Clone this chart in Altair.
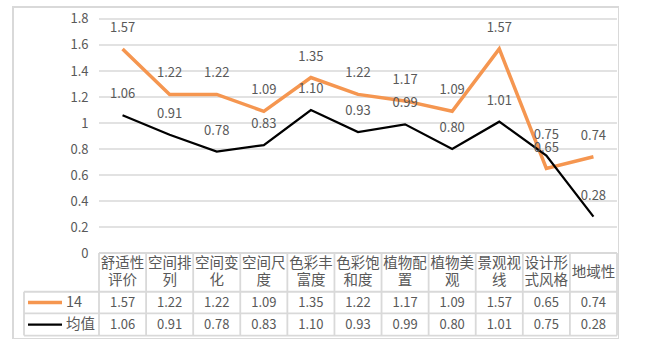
import altair as alt
import pandas as pd

# ---------------- data ----------------
categories = ["舒适性评价", "空间排列", "空间变化", "空间尺度", "色彩丰富度", "色彩饱和度",
              "植物配置", "植物美观", "景观视线", "设计形式风格", "地域性"]
series_names = ["14", "均值"]
values_14 = [1.57, 1.22, 1.22, 1.09, 1.35, 1.22, 1.17, 1.09, 1.57, 0.65, 0.74]
values_mean = [1.06, 0.91, 0.78, 0.83, 1.10, 0.93, 0.99, 0.80, 1.01, 0.75, 0.28]
y_ticks = [0, 0.2, 0.4, 0.6, 0.8, 1.0, 1.2, 1.4, 1.6, 1.8]

# ---------------- styles / layout ----------------
colors = ["#F59650", "#000000"]
widths = [3.5, 2.25]
FONT = "Noto Sans CJK SC"
TXT = "#595959"
GRID = "#d9d9d9"

n = len(categories)
x_left, x_right = -0.5, n - 0.5
legend_left = -2.0927
legend_line = (-2.0077, -1.2857)
legend_text_x = -1.2008
row_edges = [0.0, -0.298, -0.465, -0.635]
row_centers = {series_names[0]: -0.3815, series_names[1]: -0.55}
header_center = -0.1538      # centre of the header text block
line_h_px = 17.0
px_per_unit = 130.0

xscale = alt.Scale(domain=[-2.3263, 10.5427], nice=False, zero=False)
yscale = alt.Scale(domain=[-0.6615, 1.8923], nice=False, zero=False)
yaxis = alt.Axis(values=y_ticks, format=".2~f", grid=False, domain=False, ticks=False,
                 tickSize=0, labelPadding=0, offset=-75, title=None,
                 labelFont=FONT, labelFontSize=13, labelColor=TXT)
cscale = alt.Scale(domain=series_names, range=colors)
wscale = alt.Scale(domain=series_names, range=widths)


def X(f="x"):
    return alt.X(f + ":Q", scale=xscale, axis=None)


def X2(f="x2"):
    return alt.X2(f)


def Y(f="y"):
    return alt.Y(f + ":Q", scale=yscale, axis=yaxis)


# long data
rows = []
for s, vals in zip(series_names, [values_14, values_mean]):
    for i, (c, v) in enumerate(zip(categories, vals)):
        rows.append({"x": i, "cat": c, "series": s, "y": v, "label": f"{v:.2f}",
                     "row_y": row_centers[s]})
df = pd.DataFrame(rows)

# gridlines
grid_df = pd.DataFrame({"y": [t for t in y_ticks if t > 0], "x": x_left, "x2": x_right})
grid = alt.Chart(grid_df).mark_rule(color=GRID, strokeWidth=1.5).encode(
    x=X(), x2=X2(), y=Y())

# table horizontal borders
h_df = pd.DataFrame({"y": row_edges,
                     "x": [x_left] + [legend_left] * 3,
                     "x2": [x_right] * 4})
hrules = alt.Chart(h_df).mark_rule(color=GRID, strokeWidth=1.8).encode(
    x=X(), x2=X2(), y=Y())

# table vertical borders
v_df = pd.DataFrame({"x": [legend_left] + [x_left + k for k in range(n + 1)],
                     "y": [row_edges[1]] + [row_edges[0]] * (n + 1),
                     "y2": [row_edges[3]] * (n + 2)})
vrules = alt.Chart(v_df).mark_rule(color=GRID, strokeWidth=1.8).encode(
    x=X(), y=Y(), y2=alt.Y2("y2"))

# lines
lines = alt.Chart(df).mark_line(strokeJoin="miter").encode(
    x=X(), y=Y(),
    color=alt.Color("series:N", scale=cscale, legend=None),
    strokeWidth=alt.StrokeWidth("series:N", scale=wscale, legend=None),
    detail="series:N")

# data labels
labels = alt.Chart(df).mark_text(font=FONT, fontSize=13, color=TXT, dy=-21,
                                 baseline="middle", align="center").encode(
    x=X(), y=Y(), text="label:N")

# table values
tvals = alt.Chart(df).mark_text(font=FONT, fontSize=13, color=TXT,
                                baseline="middle", align="center").encode(
    x=X(), y=Y("row_y"), text="label:N")

# header (wrapped every 3 characters, block centred in the header row)
wrapped = ["\n".join([c[k:k + 3] for k in range(0, len(c), 3)]) for c in categories]
nlines = [w.count("\n") + 1 for w in wrapped]
hdr_df = pd.DataFrame({"x": list(range(n)), "t": wrapped,
                       "y": [header_center + (m - 1) * line_h_px / 2 / px_per_unit for m in nlines]})
header = alt.Chart(hdr_df).mark_text(font=FONT, fontSize=14.5, color=TXT, baseline="middle",
                                     align="center", lineBreak="\n", lineHeight=line_h_px).encode(
    x=X(), y=Y(), text="t:N")

# legend column
leg_df = pd.DataFrame({"series": series_names,
                       "y": [row_centers[s] for s in series_names],
                       "x": legend_line[0], "x2": legend_line[1], "tx": legend_text_x})
leg_lines = alt.Chart(leg_df).mark_rule().encode(
    x=X(), x2=X2(), y=Y(),
    color=alt.Color("series:N", scale=cscale, legend=None),
    strokeWidth=alt.StrokeWidth("series:N", scale=alt.Scale(domain=series_names, range=[4, 3]), legend=None))
leg_text = alt.Chart(leg_df).mark_text(font=FONT, fontSize=14.5, color=TXT, baseline="middle",
                                       align="left").encode(
    x=X("tx"), y=Y(), text="series:N")

chart = alt.layer(grid, hrules, vrules, lines, labels, tvals, header, leg_lines, leg_text).properties(
    width=606, height=332,
    autosize=alt.AutoSizeParams(type="none"),
    padding={"left": 13, "top": 7, "right": 0, "bottom": 0},
    background="white",
).resolve_scale(color="shared").configure_view(stroke=GRID, strokeWidth=2)

chart.save("out.html", embed_options={"renderer": "svg", "actions": False})
